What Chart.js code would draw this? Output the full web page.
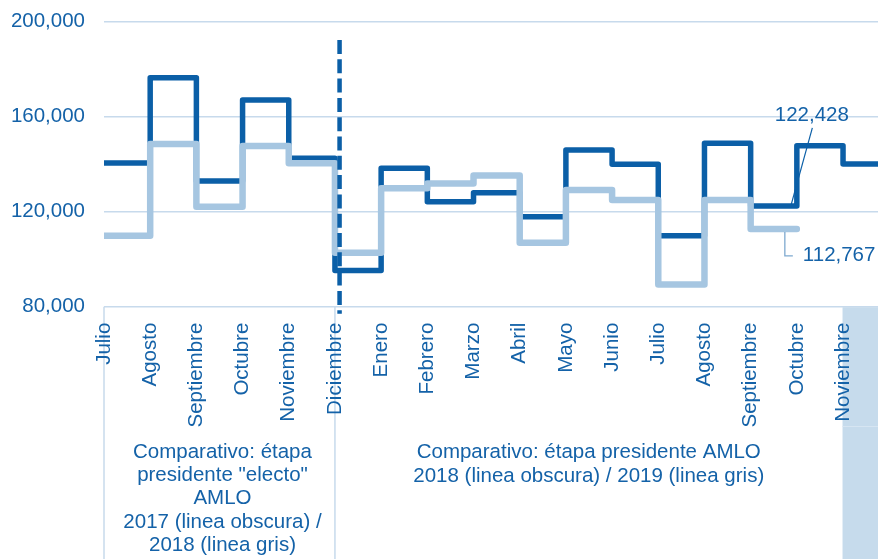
<!DOCTYPE html>
<html lang="es">
<head>
<meta charset="utf-8">
<title>Comparativo: étapa presidente AMLO</title>
<script src="https://cdn.jsdelivr.net/npm/chart.js@4.4.1/dist/chart.umd.min.js"></script>
<style>
  html, body { margin: 0; padding: 0; background: #ffffff; }
  #wrap { width: 878px; height: 559px; }
  canvas { display: block; }
</style>
</head>
<body>
<div id="wrap"><canvas id="chart" width="878" height="559"></canvas></div>
<script>
// Meses del eje horizontal: julio–diciembre (etapa "electo") y enero–noviembre (etapa presidente)
const months = ['Julio', 'Agosto', 'Septiembre', 'Octubre', 'Noviembre', 'Diciembre',
                'Enero', 'Febrero', 'Marzo', 'Abril', 'Mayo', 'Junio', 'Julio',
                'Agosto', 'Septiembre', 'Octubre', 'Noviembre'];

// Línea obscura: 2017 (jul–dic) / 2018 (ene–nov)
const darkSeries = [140500, 176400, 132900, 167000, 142500, 95200,
                    138300, 124200, 128000, 117900, 146000, 140000, 109900,
                    148800, 122428, 147800, 140100];

// Línea gris: 2018 (jul–dic) / 2019 (ene–sep)
const lightSeries = [109900, 148500, 122100, 147700, 140400, 102700,
                     129900, 131900, 135200, 106900, 129100, 124900, 89400,
                     124900, 112767];

// Eje vertical
const yTicks = [80000, 120000, 160000, 200000];

// Textos de las celdas bajo el eje
const cellLeftText = ['Comparativo: étapa', 'presidente "electo"', 'AMLO',
                      '2017 (linea obscura) /', '2018 (linea gris)'];
const cellRightText = ['Comparativo: étapa presidente AMLO',
                       '2018 (linea obscura) / 2019 (linea gris)'];

const DARK = '#0b5fa7';
const LIGHT = '#a6c6e1';
const GRID = '#c7daec';
const SHADE = '#c6dbec';
const TEXT = '#1462a8';
const FONT = '"Liberation Sans", Arial, Helvetica, sans-serif';
const FONT_SIZE = 20.5;

const W = 878, H = 559;
const AXIS_BOTTOM = 306.7;   // pixel row of the 80,000 baseline
const X_MAX = 16.757;        // visible span of the month axis
const DIVIDER_AT = 5.1;      // dashed separator between the two periods
const CELL_SPLIT = 5;        // border between the two text cells

// Each monthly value holds until the next month: add a closing point one month later
function stepPoints(values) {
  const pts = values.map((v, i) => ({ x: i, y: v }));
  pts.push({ x: values.length, y: values[values.length - 1] });
  return pts;
}

Chart.defaults.font.family = FONT;
Chart.defaults.font.size = FONT_SIZE;
Chart.defaults.color = TEXT;

const tablePlugin = {
  id: 'tablePlugin',
  beforeDraw(chart) {
    const { ctx, scales: { x } } = chart;
    const left = chart.chartArea.left;
    const split = x.getPixelForValue(CELL_SPLIT);
    const shadeX = x.getPixelForValue(months.length - 1) - 0.5;
    ctx.save();
    ctx.fillStyle = SHADE;
    ctx.fillRect(shadeX, AXIS_BOTTOM + 0.5, W - shadeX, H - AXIS_BOTTOM);
    ctx.strokeStyle = '#d6e5f2';
    ctx.lineWidth = 1;
    ctx.beginPath();
    ctx.moveTo(shadeX, 426.5);
    ctx.lineTo(W, 426.5);
    ctx.stroke();
    ctx.strokeStyle = GRID;
    ctx.lineWidth = 1.5;
    ctx.beginPath();
    ctx.moveTo(left, AXIS_BOTTOM);
    ctx.lineTo(left, H);
    ctx.moveTo(split, AXIS_BOTTOM);
    ctx.lineTo(split, H);
    ctx.stroke();

    ctx.fillStyle = TEXT;
    ctx.font = FONT_SIZE + 'px ' + FONT;
    ctx.textAlign = 'center';
    ctx.textBaseline = 'middle';
    const lh = 23.4;
    const c1 = (left + split) / 2 + 3;
    cellLeftText.forEach((t, i) => ctx.fillText(t, c1, 452 + i * lh));
    const c2 = (split + shadeX) / 2;
    cellRightText.forEach((t, i) => ctx.fillText(t, c2, 452 + i * 24.5));
    ctx.restore();
  },
  afterDatasetsDraw(chart) {
    const { ctx, scales: { x, y } } = chart;
    ctx.save();
    // dashed separator between the two periods
    const dx = x.getPixelForValue(DIVIDER_AT);
    ctx.strokeStyle = DARK;
    ctx.lineWidth = 4.5;
    ctx.setLineDash([14, 5.3]);
    ctx.beginPath();
    ctx.moveTo(dx, 40);
    ctx.lineTo(dx, AXIS_BOTTOM + 7);
    ctx.stroke();
    ctx.setLineDash([]);

    ctx.font = FONT_SIZE + 'px ' + FONT;
    ctx.textBaseline = 'middle';

    // label for the last dark value with its leader
    const di = darkSeries.length - 3;
    const dv = darkSeries[di];
    const ax = x.getPixelForValue(di + 1) - 6;
    const ay = y.getPixelForValue(dv);
    ctx.strokeStyle = DARK;
    ctx.lineWidth = 1.2;
    ctx.beginPath();
    ctx.moveTo(ax, ay);
    ctx.lineTo(ax + 21.5, ay - 78);
    ctx.stroke();
    ctx.fillStyle = TEXT;
    ctx.textAlign = 'center';
    ctx.fillText(dv.toLocaleString('en-US'), ax + 21, ay - 91);

    // label for the last light value with its leader
    const li = lightSeries.length - 1;
    const lv = lightSeries[li];
    const ex = x.getPixelForValue(li + 1);
    const ey = y.getPixelForValue(lv);
    ctx.strokeStyle = '#7ea9cf';
    ctx.lineWidth = 1.3;
    ctx.beginPath();
    ctx.moveTo(ex - 12, ey + 3);
    ctx.lineTo(ex - 12, ey + 27);
    ctx.lineTo(ex - 4, ey + 27);
    ctx.stroke();
    ctx.textAlign = 'left';
    ctx.fillText(lv.toLocaleString('en-US'), ex + 6, ey + 26);
    ctx.restore();
  }
};

new Chart(document.getElementById('chart'), {
  type: 'line',
  data: {
    datasets: [
      {
        label: '2018 / 2019 (linea gris)',
        data: stepPoints(lightSeries),
        borderColor: LIGHT,
        borderWidth: 6.5,
        stepped: true,
        pointRadius: 0,
        borderJoinStyle: 'round',
        borderCapStyle: 'round',
        clip: 0
      },
      {
        label: '2017 / 2018 (linea obscura)',
        data: stepPoints(darkSeries),
        borderColor: DARK,
        borderWidth: 5.5,
        stepped: true,
        pointRadius: 0,
        borderJoinStyle: 'round',
        borderCapStyle: 'round',
        clip: 0
      }
    ]
  },
  options: {
    responsive: false,
    animation: false,
    devicePixelRatio: 1,
    layout: { padding: { top: 21.7, right: 0, bottom: 0, left: 0 } },
    plugins: { legend: { display: false }, tooltip: { enabled: false } },
    scales: {
      x: {
        type: 'linear',
        min: 0,
        max: X_MAX,
        grid: { display: false },
        border: { display: false },
        ticks: {
          stepSize: 1,
          maxTicksLimit: 40,
          includeBounds: false,
          autoSkip: false,
          minRotation: 90,
          maxRotation: 90,
          padding: 8,
          color: TEXT,
          callback: (v) => (Number.isInteger(v) && months[v] !== undefined ? months[v] : null)
        },
        afterFit: (s) => { s.height = H - AXIS_BOTTOM; }
      },
      y: {
        min: yTicks[0],
        max: yTicks[yTicks.length - 1],
        afterBuildTicks: (s) => { s.ticks = yTicks.map((v) => ({ value: v })); },
        grid: { color: GRID, lineWidth: 1.5, drawTicks: true, tickLength: 19, tickColor: 'rgba(0,0,0,0)' },
        border: { display: false },
        ticks: {
          padding: 0,
          color: TEXT,
          callback: (v) => v.toLocaleString('en-US')
        },
        afterFit: (s) => { s.width = 104; }
      }
    }
  },
  plugins: [tablePlugin]
});
</script>
</body>
</html>
